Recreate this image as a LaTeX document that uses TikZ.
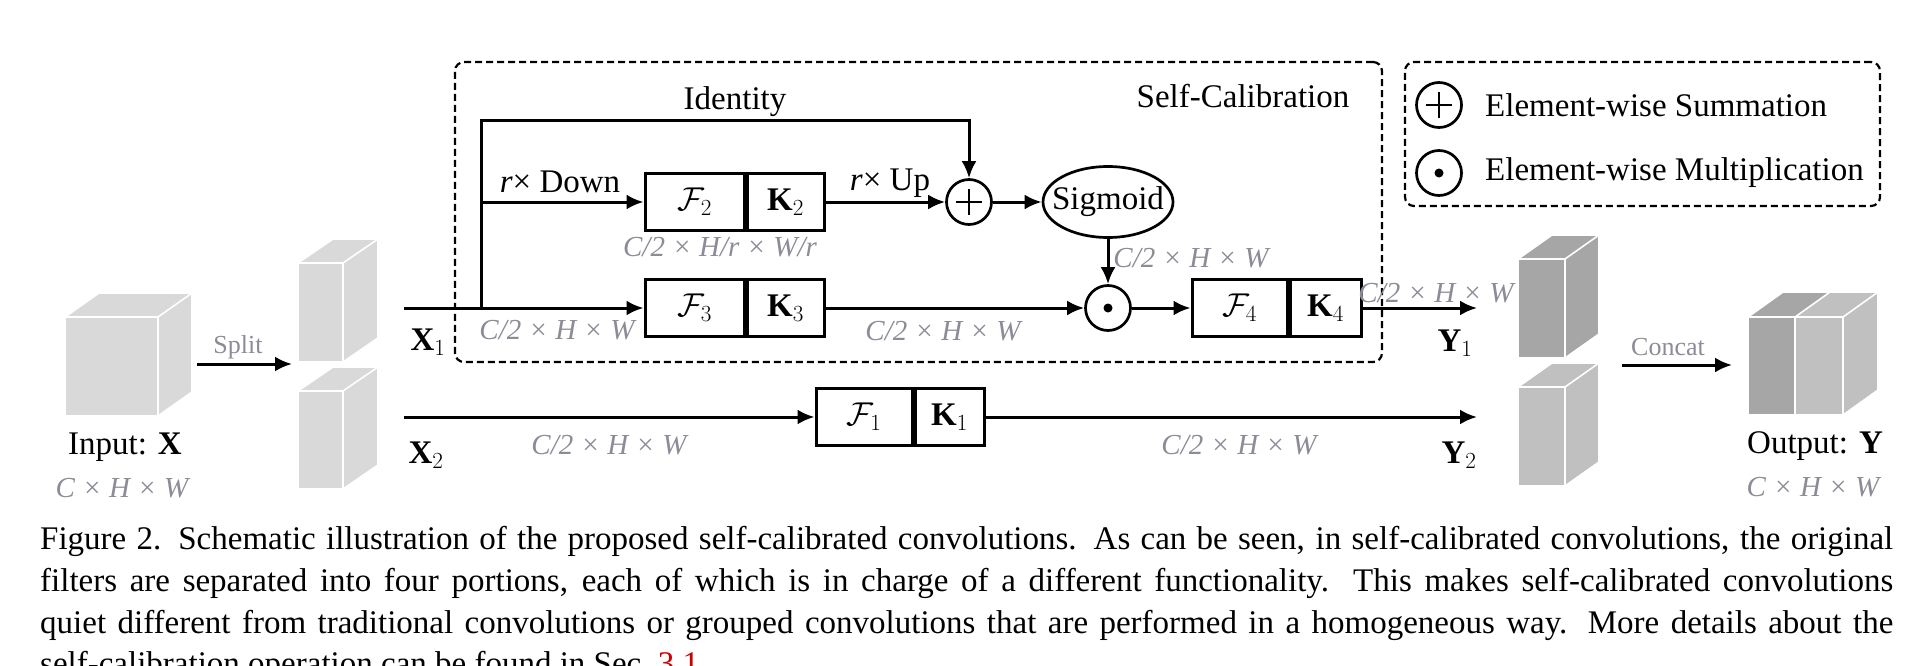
\RequirePackage{fix-cm}
\documentclass[tikz,border=0pt]{standalone}
\usepackage{fontspec}
\setmainfont{Liberation Serif}
\usetikzlibrary{arrows.meta,calc,shapes.geometric}
\definecolor{dimc}{RGB}{140,140,152}
\definecolor{cubeL}{RGB}{217,217,217}
\definecolor{cubeD}{RGB}{166,166,166}
\definecolor{cubeM}{RGB}{192,192,192}
\definecolor{linkred}{RGB}{204,0,0}
\newcommand\cuboid[7]{%
  \fill[#7] (#1,#2) rectangle (#3,#4);
  \fill[#7] (#1,#2) -- ({#1+#5},{#2+#6}) -- ({#3+#5},{#2+#6}) -- (#3,#2) -- cycle;
  \fill[#7] (#3,#2) -- ({#3+#5},{#2+#6}) -- ({#3+#5},{#4+#6}) -- (#3,#4) -- cycle;
  \draw[cubeedge] (#1,#2) rectangle (#3,#4)
    (#1,#2) -- ({#1+#5},{#2+#6}) -- ({#3+#5},{#2+#6}) -- ({#3+#5},{#4+#6}) -- (#3,#4)
    (#3,#2) -- ({#3+#5},{#2+#6});
}
\tikzset{
  cubeedge/.style={white, line width=1.6pt, line join=miter},
  conn/.style={line width=3pt, -{Latex[length=17pt,width=15pt]}},
  fpart/.style={draw, line width=3pt, minimum height=57pt, inner sep=0pt, font=\fontsize{33}{40}\selectfont},
  lbl/.style={inner sep=0pt, font=\fontsize{33}{40}\selectfont},
  dimlbl/.style={inner sep=0pt, text=dimc, font=\fontsize{29}{35}\selectfont\itshape},
  smalllbl/.style={inner sep=0pt, text=dimc, font=\fontsize{26}{31}\selectfont},
  opcirc/.style={circle, draw, line width=2.7pt, minimum size=45pt, inner sep=0pt},
  plusop/.style={opcirc, path picture={\draw[line width=2.6pt]
     ($(path picture bounding box.center)+(-13,0)$) -- ($(path picture bounding box.center)+(13,0)$)
     ($(path picture bounding box.center)+(0,-13)$) -- ($(path picture bounding box.center)+(0,13)$);}},
  dotop/.style={opcirc, path picture={\fill (path picture bounding box.center) circle[radius=4.5pt];}},
  dashedframe/.style={draw, dash pattern=on 7pt off 4pt, line width=2.2pt, rounded corners=9pt, inner sep=0pt},
  caplbl/.style={anchor=base west, inner sep=0pt, font=\fontsize{33}{40.5}\selectfont},
}
\begin{document}
\begin{tikzpicture}[x=1pt,y=-1pt]
\useasboundingbox (0,0) rectangle (1910,666);

% frames
\node[dashedframe, minimum width=927pt, minimum height=300pt] (scframe) at (918.5,212) {};
\node[dashedframe, minimum width=475pt, minimum height=144pt] (legframe) at (1642.5,134) {};

% cubes
\cuboid{65}{317}{158}{416}{34}{-24}{cubeL}
\cuboid{298}{263}{343}{362}{35}{-24}{cubeL}
\cuboid{298}{391}{343}{489}{35}{-24}{cubeL}
\cuboid{1518}{259}{1565}{358}{34}{-24}{cubeD}
\cuboid{1518}{387}{1565}{486}{34}{-24}{cubeM}
% output cube
\fill[cubeD] (1748,317) rectangle (1795,415);
\fill[cubeM] (1795,317) rectangle (1843,415);
\fill[cubeD] (1748,317) -- (1783,292) -- (1830,292) -- (1795,317) -- cycle;
\fill[cubeM] (1795,317) -- (1830,292) -- (1878,292) -- (1843,317) -- cycle;
\fill[cubeM] (1843,317) -- (1878,292) -- (1878,390) -- (1843,415) -- cycle;
\draw[cubeedge] (1748,317) rectangle (1843,415) (1795,317) -- (1795,415)
  (1748,317) -- (1783,292) -- (1878,292) -- (1878,390) -- (1843,415)
  (1843,317) -- (1878,292) (1795,317) -- (1830,292);

% coordinates
\coordinate (splitS) at (197,364);
\coordinate (splitE) at (292,364);
\coordinate (concS) at (1622,365);
\coordinate (concE) at (1732,365);
\coordinate (x1s) at (404,308);
\coordinate (x2s) at (404,417);
\coordinate (br) at (481,308);
\coordinate (brtop) at (481,121);
\coordinate (brmid) at (481,202);
\coordinate (y1e) at (1477,308);
\coordinate (y2e) at (1477,417);

% boxes
\node[fpart, minimum width=99pt] (f2) at (694.5,202) {$\mathcal{F}_2$};
\node[fpart, minimum width=77pt, anchor=west] (k2) at (f2.east) {$\mathbf{K}_2$};
\node[fpart, minimum width=99pt] (f3) at (694.5,308) {$\mathcal{F}_3$};
\node[fpart, minimum width=77pt, anchor=west] (k3) at (f3.east) {$\mathbf{K}_3$};
\node[fpart, minimum width=95pt] (f4) at (1239.5,308) {$\mathcal{F}_4$};
\node[fpart, minimum width=71pt, anchor=west] (k4) at (f4.east) {$\mathbf{K}_4$};
\node[fpart, minimum width=96pt] (f1) at (864,417) {$\mathcal{F}_1$};
\node[fpart, minimum width=69pt, anchor=west] (k1) at (f1.east) {$\mathbf{K}_1$};

\node[plusop] (plus) at (969,202) {};
\node[ellipse, draw, line width=2.7pt, minimum width=130pt, minimum height=71pt, inner sep=0pt,
      font=\fontsize{33}{40}\selectfont] (sig) at (1108,202) {\makebox[0pt]{Sigmoid}};
\node[dotop] (dot) at (1108,308) {};

% connectors
\draw[conn] (splitS) -- (splitE);
\draw[conn] (concS) -- (concE);
\draw[conn] (x1s) -- (f3.west);
\draw[conn] (br) -- (brtop) -| (plus.north);
\draw[conn] (brmid) -- (f2.west);
\draw[conn] (k2.east) -- (plus.west);
\draw[conn] (plus.east) -- (sig.west);
\draw[conn] (sig.south) -- (dot.north);
\draw[conn] (k3.east) -- (dot.west);
\draw[conn] (dot.east) -- (f4.west);
\draw[conn] (k4.east) -- (y1e);
\draw[conn] (x2s) -- (f1.west);
\draw[conn] (k1.east) -- (y2e);

% labels
\node[lbl] (lid) at (735,102) {Identity};
\node[lbl] (lsc) at (1243,96) {Self-Calibration};
\node[lbl] (ldown) at (560,182) {\textit{r}× Down};
\node[lbl] (lup) at (890,183) {\textit{r}× Up};
\node[dimlbl] (d1) at (720,247) {C/2 × H/r × W/r};
\node[dimlbl] (d2) at (557,330) {C/2 × H × W};
\node[dimlbl] (d3) at (943,331) {C/2 × H × W};
\node[dimlbl] (d4) at (1191,258) {C/2 × H × W};
\node[dimlbl] (d5) at (1436,293) {C/2 × H × W};
\node[dimlbl] (d6) at (609,445) {C/2 × H × W};
\node[dimlbl] (d7) at (1239,445) {C/2 × H × W};
\node[lbl] (lin) at (125,447) {Input: \textbf{X}};
\node[dimlbl] (din) at (122,488) {C × H × W};
\node[lbl] (lout) at (1815,446) {Output: \textbf{Y}};
\node[dimlbl] (dout) at (1813,487) {C × H × W};
\node[lbl] (lx1) at (428,342) {$\mathbf{X}_1$};
\node[lbl] (lx2) at (426,455) {$\mathbf{X}_2$};
\node[lbl] (ly1) at (1455,343) {$\mathbf{Y}_1$};
\node[lbl] (ly2) at (1459,455) {$\mathbf{Y}_2$};
\node[smalllbl] (lsplit) at (238,347) {Split};
\node[smalllbl] (lconcat) at (1668,347) {Concat};

% legend
\node[plusop] (legplus) at (1439,105) {};
\node[dotop] (legdot) at (1439,173) {};
\node[lbl, anchor=west] (legt1) at (1485,105) {Element-wise Summation};
\node[lbl, anchor=west] (legt2) at (1485,173) {Element-wise Multiplication};

% caption
\node[caplbl] (cap1) at (40,549) {\makebox[1853pt][s]{Figure 2. Schematic illustration of the proposed self-calibrated convolutions. As can be seen, in self-calibrated convolutions, the original}};
\node[caplbl] (cap2) at (40,591) {\makebox[1853pt][s]{filters are separated into four portions, each of which is in charge of a different functionality. This makes self-calibrated convolutions}};
\node[caplbl] (cap3) at (40,633) {\makebox[1853pt][s]{quiet different from traditional convolutions or grouped convolutions that are performed in a homogeneous way. More details about the}};
\node[caplbl] (cap4) at (40,674.5) {self-calibration operation can be found in Sec.~\textcolor{linkred}{3.1}.};
\end{tikzpicture}
\end{document}
